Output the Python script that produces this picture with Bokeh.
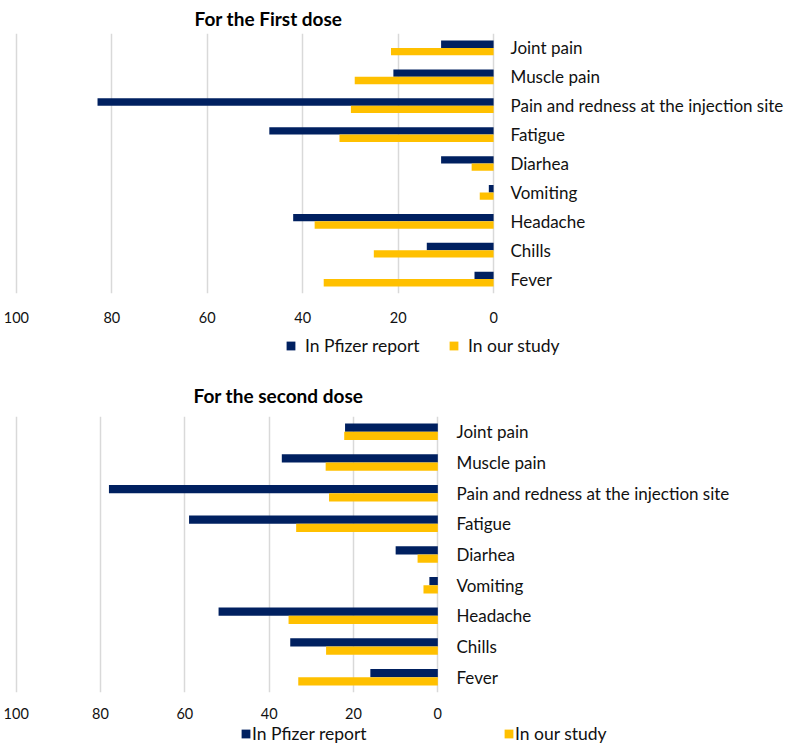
from bokeh.plotting import figure
from bokeh.models import (Range1d, FactorRange, FixedTicker, Legend, LegendItem,
                          ColumnDataSource)
from bokeh.transform import dodge
from bokeh.layouts import column
from bokeh.embed import file_html
from bokeh.resources import INLINE

categories = ["Joint pain", "Muscle pain", "Pain and redness at the injection site",
              "Fatigue", "Diarhea", "Vomiting", "Headache", "Chills", "Fever"]
first_pfizer = [11, 21, 83, 47, 11, 1, 42, 14, 4]
first_ours = [21.5, 29.1, 29.9, 32.3, 4.6, 2.9, 37.5, 25.1, 35.6]
second_pfizer = [22, 37, 78, 59, 10, 2, 52, 35, 16]
second_ours = [22.2, 26.6, 25.8, 33.6, 4.8, 3.4, 35.4, 26.5, 33.1]
series_names = ["In Pfizer report", "In our study"]
x_ticks = [0, 20, 40, 60, 80, 100]

NAVY = "#002060"
YELLOW = "#FFC000"
FONT = "Lato"
TXT = "#111111"


def make_chart(src, title, frame_w, frame_h, bar_h, left, top, bottom,
               title_off, title_standoff, tick_standoff, label_standoff):
    p = figure(y_range=FactorRange(*categories[::-1]), x_range=Range1d(100.4, -0.4),
               frame_width=frame_w, frame_height=frame_h,
               output_backend="svg", toolbar_location=None,
               y_axis_location="right",
               min_border_left=left, min_border_right=0,
               min_border_top=top, min_border_bottom=bottom)
    p.hbar(y=dodge("cat", bar_h / 2, range=p.y_range), left=0, right="pf",
           height=bar_h, fill_color=NAVY, line_color=None, source=src)
    p.hbar(y=dodge("cat", -bar_h / 2, range=p.y_range), left=0, right="our",
           height=bar_h, fill_color=YELLOW, line_color=None, source=src)

    p.title.text = title
    p.title.align = "left"
    p.title.offset = title_off
    p.title.text_font = FONT
    p.title.text_font_size = "19px"
    p.title.text_font_style = "bold"
    p.title.text_color = "#000000"
    p.title.standoff = title_standoff

    p.outline_line_color = None
    p.xaxis.ticker = FixedTicker(ticks=x_ticks)
    p.xgrid.ticker = FixedTicker(ticks=x_ticks)
    p.xgrid.grid_line_color = "#D9D9D9"
    p.xgrid.grid_line_width = 1.5
    p.ygrid.grid_line_color = None
    for ax in (p.xaxis[0], p.yaxis[0]):
        ax.axis_line_color = None
        ax.major_tick_line_color = None
        ax.minor_tick_line_color = None
        ax.major_tick_out = 0
        ax.major_tick_in = 0
        ax.major_label_text_font = FONT
        ax.major_label_text_color = TXT
    p.xaxis.major_label_text_font_size = "14.5px"
    p.yaxis.major_label_text_font_size = "17px"
    p.xaxis.major_label_standoff = tick_standoff
    p.yaxis.major_label_standoff = label_standoff
    return p


def make_legend(src, height, leg_x, label_h, label_w, standoff, font_size):
    lf = figure(frame_width=640, frame_height=height, output_backend="svg",
                toolbar_location=None, x_axis_location=None, y_axis_location=None,
                x_range=Range1d(100, 0), y_range=FactorRange(*categories[::-1]),
                min_border=0, outline_line_color=None)
    lf.xgrid.grid_line_color = None
    lf.ygrid.grid_line_color = None
    # zero-height bars: nothing is drawn, the renderers only feed the legend swatches
    g1 = lf.hbar(y="cat", left=0, right="pf", height=0, fill_color=NAVY,
                 line_color=None, source=src)
    g2 = lf.hbar(y="cat", left=0, right="our", height=0, fill_color=YELLOW,
                 line_color=None, source=src)
    legend = Legend(items=[LegendItem(label=series_names[0], renderers=[g1]),
                           LegendItem(label=series_names[1], renderers=[g2])],
                    orientation="horizontal", location=(leg_x, 0),
                    padding=0, margin=0, spacing=20,
                    glyph_width=11, glyph_height=11, label_height=label_h,
                    label_width=label_w, label_standoff=standoff,
                    label_text_font=FONT, label_text_font_size=font_size,
                    label_text_color=TXT, border_line_color=None,
                    background_fill_alpha=0)
    lf.add_layout(legend)
    return lf


src1 = ColumnDataSource(dict(cat=categories, pf=first_pfizer, our=first_ours))
src2 = ColumnDataSource(dict(cat=categories, pf=second_pfizer, our=second_ours))

p1 = make_chart(src1, "For the First dose", 481, 260, 0.255, 12, 26, 36, 180, 8, 18, 15)
l1 = make_legend(src1, 27, 285, 20, 123, 9, "17.5px")
p2 = make_chart(src2, "For the second dose", 425, 276, 0.27, 14, 60, 32, 179, 19, 15, 17)
l2 = make_legend(src2, 20, 240, 19, 231, 1, "17.5px")

layout = column(p1, l1, p2, l2, spacing=0)
open("out.html", "w").write(file_html(layout, INLINE))
